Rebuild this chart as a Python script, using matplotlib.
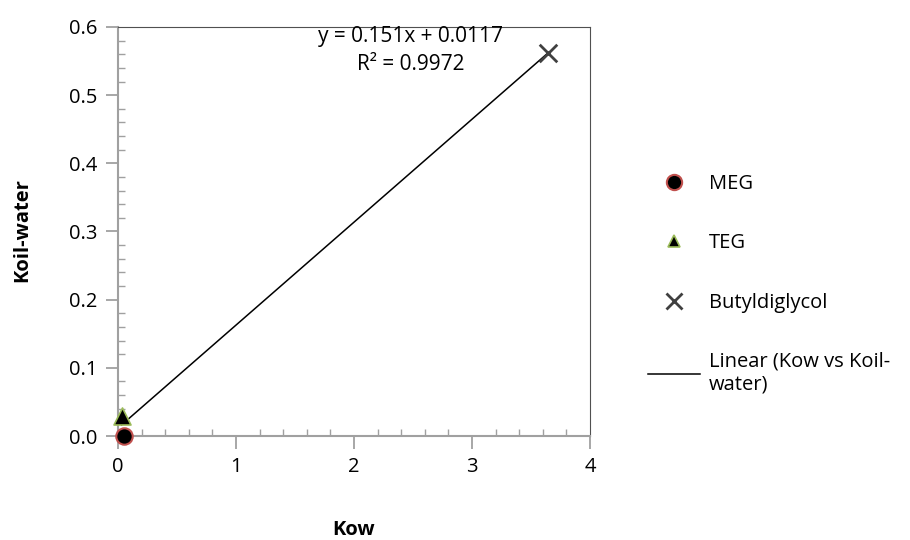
import matplotlib
matplotlib.use("Agg")
import matplotlib.pyplot as plt
import numpy as np
from matplotlib.ticker import MultipleLocator
from matplotlib.lines import Line2D

plt.rcParams['font.family'] = ['Open Sans', 'DejaVu Sans']

series = ["MEG", "TEG", "Butyldiglycol"]
kow = [0.05, 0.03, 3.64]
koil = [0.0, 0.03, 0.562]
slope, intercept = 0.151, 0.0117
eq_text = "y = 0.151x + 0.0117\nR² = 0.9972"
trend_label = "Linear (Kow vs Koil-\nwater)"

FS = 14.5

fig = plt.figure(figsize=(9.1, 5.4), dpi=100)
ax = fig.add_axes([118/910, 1-436/540, (590-118)/910, (436-27)/540])

# trendline
xs = np.array([min(kow), max(kow)])
ax.plot(xs, slope*xs + intercept, color='black', lw=1.1, zorder=2)

ax.scatter([kow[0]], [koil[0]], s=140, marker='o', facecolor='black',
           edgecolor='#c0504d', linewidth=1.5, zorder=4, clip_on=False)
ax.scatter([kow[1]], [koil[1]], s=150, marker='^', facecolor='black',
           edgecolor='#9bbb59', linewidth=1.2, zorder=3, clip_on=False)
ax.scatter([kow[2]], [koil[2]], s=160, marker='x', color='#404040',
           linewidth=2.0, zorder=3, clip_on=False)

ax.text(2.48, 0.565, eq_text, ha='center', va='center', fontsize=15,
        linespacing=1.45)

ax.set_xlim(0, 4)
ax.set_ylim(0, 0.6)
ax.xaxis.set_major_locator(MultipleLocator(1))
ax.xaxis.set_minor_locator(MultipleLocator(0.2))
ax.yaxis.set_major_locator(MultipleLocator(0.1))
ax.yaxis.set_minor_locator(MultipleLocator(0.02))
ax.yaxis.set_major_formatter(matplotlib.ticker.FormatStrFormatter('%.1f'))
ax.tick_params(which='major', direction='out', length=9, width=1.3,
               color='#a0a0a0', labelsize=FS, pad=6)
ax.tick_params(which='minor', direction='in', length=5, width=1.0,
               color='#a0a0a0')
for s in ['left', 'bottom']:
    ax.spines[s].set_color('#a0a0a0')
    ax.spines[s].set_linewidth(1.5)
for s in ['top', 'right']:
    ax.spines[s].set_color('#505050')
    ax.spines[s].set_linewidth(0.8)

fig.text(354/910, 1-530/540, "Kow", ha='center', va='center',
         fontsize=FS, fontweight='bold')
fig.text(22/910, 1-230/540, "Koil-water", ha='center', va='center',
         rotation=90, fontsize=FS, fontweight='bold')

handles = [
    Line2D([], [], ls='none', marker='o', markersize=11, markerfacecolor='black',
           markeredgecolor='#c0504d', markeredgewidth=1.5),
    Line2D([], [], ls='none', marker='^', markersize=9, markerfacecolor='black',
           markeredgecolor='#9bbb59', markeredgewidth=1.2),
    Line2D([], [], ls='none', marker='x', markersize=11, color='#404040',
           markeredgewidth=2.0),
    Line2D([], [], color='black', lw=1.1),
]
labels = series + [trend_label]
fig.legend(handles, labels, loc='upper left', bbox_to_anchor=(630/910, 1-156/540),
           frameon=False, fontsize=FS, labelspacing=1.95, handlelength=2.6,
           handletextpad=0.4, borderpad=0.4)

fig.savefig("out.png", dpi=100)
